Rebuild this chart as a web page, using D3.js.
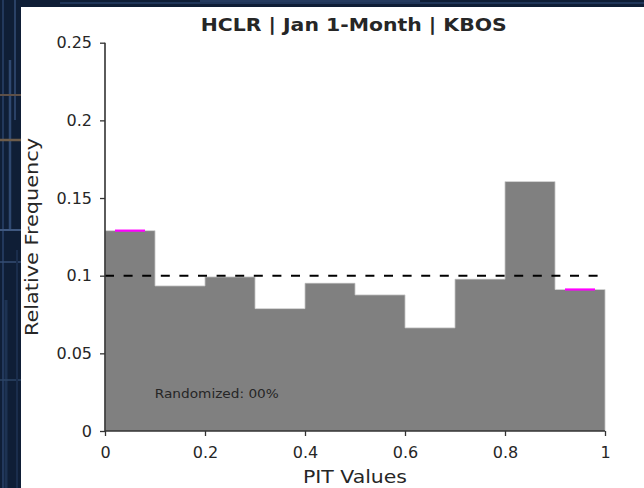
<!DOCTYPE html>
<html>
<head>
<meta charset="utf-8">
<script src="https://cdn.jsdelivr.net/npm/d3@7"></script>
<style>
  html, body { margin: 0; padding: 0; background: #0f1e36; }
  svg { display: block; }
  text { font-family: "DejaVu Sans", sans-serif; fill: #262626; }
</style>
</head>
<body>
<svg id="chart" width="644" height="488"></svg>
<script>
// PIT histogram: relative frequency of PIT values in ten equal bins
const binEdges = [0, 0.1, 0.2, 0.3, 0.4, 0.5, 0.6, 0.7, 0.8, 0.9, 1.0];
const frequencies = [0.129, 0.0934, 0.0992, 0.0788, 0.0951, 0.0876, 0.0664, 0.0977, 0.1606, 0.0911];
const highlightedBins = [0, 9];
const uniformLevel = 0.1;
const xTicks = [0, 0.2, 0.4, 0.6, 0.8, 1];
const yTicks = [0, 0.05, 0.1, 0.15, 0.2, 0.25];
const xTickLabels = ["0", "0.2", "0.4", "0.6", "0.8", "1"];
const yTickLabels = ["0", "0.05", "0.1", "0.15", "0.2", "0.25"];
const titleText = "HCLR | Jan 1-Month | KBOS";
const xLabelText = "PIT Values";
const yLabelText = "Relative Frequency";
const noteText = "Randomized: 00%";

const svg = d3.select("#chart");
const W = 644, H = 488;

// dark blue backdrop with faint trace lines
const bg = svg.append("g");
bg.append("rect").attr("width", W).attr("height", H).attr("fill", "#0f1e36");
const traces = [
  [3, 0, 3, 488, "#22385c", 2], [10, 60, 10, 230, "#2f4870", 2.5],
  [15, 0, 15, 120, "#2a4166", 2], [0, 95, 21, 95, "#5e5048", 2],
  [0, 140, 21, 140, "#6e5c4a", 2.5], [0, 230, 21, 230, "#3f5880", 2],
  [0, 262, 21, 262, "#364e74", 1.5], [6, 300, 6, 488, "#1d3252", 3],
  [0, 380, 21, 380, "#2d4466", 1.5], [17, 250, 17, 488, "#1a2d4c", 2],
  [60, 3, 644, 3, "#203659", 2], [200, 1, 420, 1, "#2e466e", 1.5]
];
bg.selectAll("line").data(traces).join("line")
  .attr("x1", d => d[0]).attr("y1", d => d[1])
  .attr("x2", d => d[2]).attr("y2", d => d[3])
  .attr("stroke", d => d[4]).attr("stroke-width", d => d[5]);

// white figure panel
svg.append("rect").attr("x", 21).attr("y", 7).attr("width", W - 21).attr("height", H - 7).attr("fill", "#ffffff");

const plot = { left: 105, right: 605, top: 42.7, bottom: 431 };
const x = d3.scaleLinear().domain([0, 1]).range([plot.left, plot.right]);
const y = d3.scaleLinear().domain([0, 0.25]).range([plot.bottom, plot.top]);

const bins = frequencies.map((v, i) => ({ x0: binEdges[i], x1: binEdges[i + 1], v, i }));

// filled bars
svg.append("g").selectAll("rect").data(bins).join("rect")
  .attr("x", d => x(d.x0)).attr("y", d => y(d.v))
  .attr("width", d => x(d.x1) - x(d.x0)).attr("height", d => y(0) - y(d.v))
  .attr("fill", "#808080").attr("shape-rendering", "crispEdges");

// light step outline along the bar tops
const stepPts = [[0, 0]];
bins.forEach(d => { stepPts.push([d.x0, d.v]); stepPts.push([d.x1, d.v]); });
stepPts.push([1, 0]);
svg.append("path")
  .attr("d", d3.line().x(d => x(d[0])).y(d => y(d[1]))(stepPts))
  .attr("fill", "none").attr("stroke", "#c4c4c4").attr("stroke-width", 0.8);

// highlighted bins
svg.append("g").selectAll("line").data(bins.filter(d => highlightedBins.includes(d.i))).join("line")
  .attr("x1", d => x(d.x0 + 0.02)).attr("x2", d => x(d.x1 - 0.02))
  .attr("y1", d => y(d.v)).attr("y2", d => y(d.v))
  .attr("stroke", "#ff00ff").attr("stroke-width", 2.2);

// uniform reference line
svg.append("line")
  .attr("x1", x(0)).attr("x2", x(1)).attr("y1", y(uniformLevel)).attr("y2", y(uniformLevel))
  .attr("stroke", "#000").attr("stroke-width", 2).attr("stroke-dasharray", "9,9.6");

// axes
const xAxis = d3.axisBottom(x).tickValues(xTicks).tickFormat((d, i) => xTickLabels[i]).tickSize(5).tickPadding(11);
const yAxis = d3.axisLeft(y).tickValues(yTicks).tickFormat((d, i) => yTickLabels[i]).tickSize(5).tickPadding(8);

const gx = svg.append("g").attr("transform", `translate(0,${plot.bottom})`).call(xAxis);
const gy = svg.append("g").attr("transform", `translate(${plot.left},0)`).call(yAxis);
[gx, gy].forEach(g => {
  g.select(".domain").attr("stroke", "#333").attr("stroke-width", 1.6);
  g.selectAll(".tick line").attr("stroke", "#333").attr("stroke-width", 1.3);
  g.selectAll(".tick text").attr("font-size", 16).attr("fill", "#2b2b2b")
    .style("font-family", "'DejaVu Sans', sans-serif");
});
gx.select(".domain").attr("d", `M${plot.left},0H${plot.right}`);
gy.select(".domain").attr("d", `M0,${plot.top}V${plot.bottom}`);

// title and labels
svg.append("text").attr("x", 353.7).attr("y", 31).attr("text-anchor", "middle")
  .attr("font-size", 18).attr("font-weight", "bold").attr("fill", "#111")
  .attr("textLength", 306).attr("lengthAdjust", "spacingAndGlyphs").text(titleText);

svg.append("text").attr("x", 355).attr("y", 483).attr("text-anchor", "middle")
  .attr("font-size", 18).attr("fill", "#2b2b2b").attr("textLength", 104).attr("lengthAdjust", "spacingAndGlyphs").text(xLabelText);

svg.append("text").attr("transform", "translate(37.5,237) rotate(-90)").attr("text-anchor", "middle")
  .attr("font-size", 18).attr("fill", "#2b2b2b").attr("textLength", 198).attr("lengthAdjust", "spacingAndGlyphs").text(yLabelText);

svg.append("text").attr("x", x(0.1) - 0.2).attr("y", 398).attr("text-anchor", "start")
  .attr("font-size", 12.5).attr("fill", "#1a1a1a").attr("textLength", 124).attr("lengthAdjust", "spacingAndGlyphs").text(noteText);
</script>
</body>
</html>
